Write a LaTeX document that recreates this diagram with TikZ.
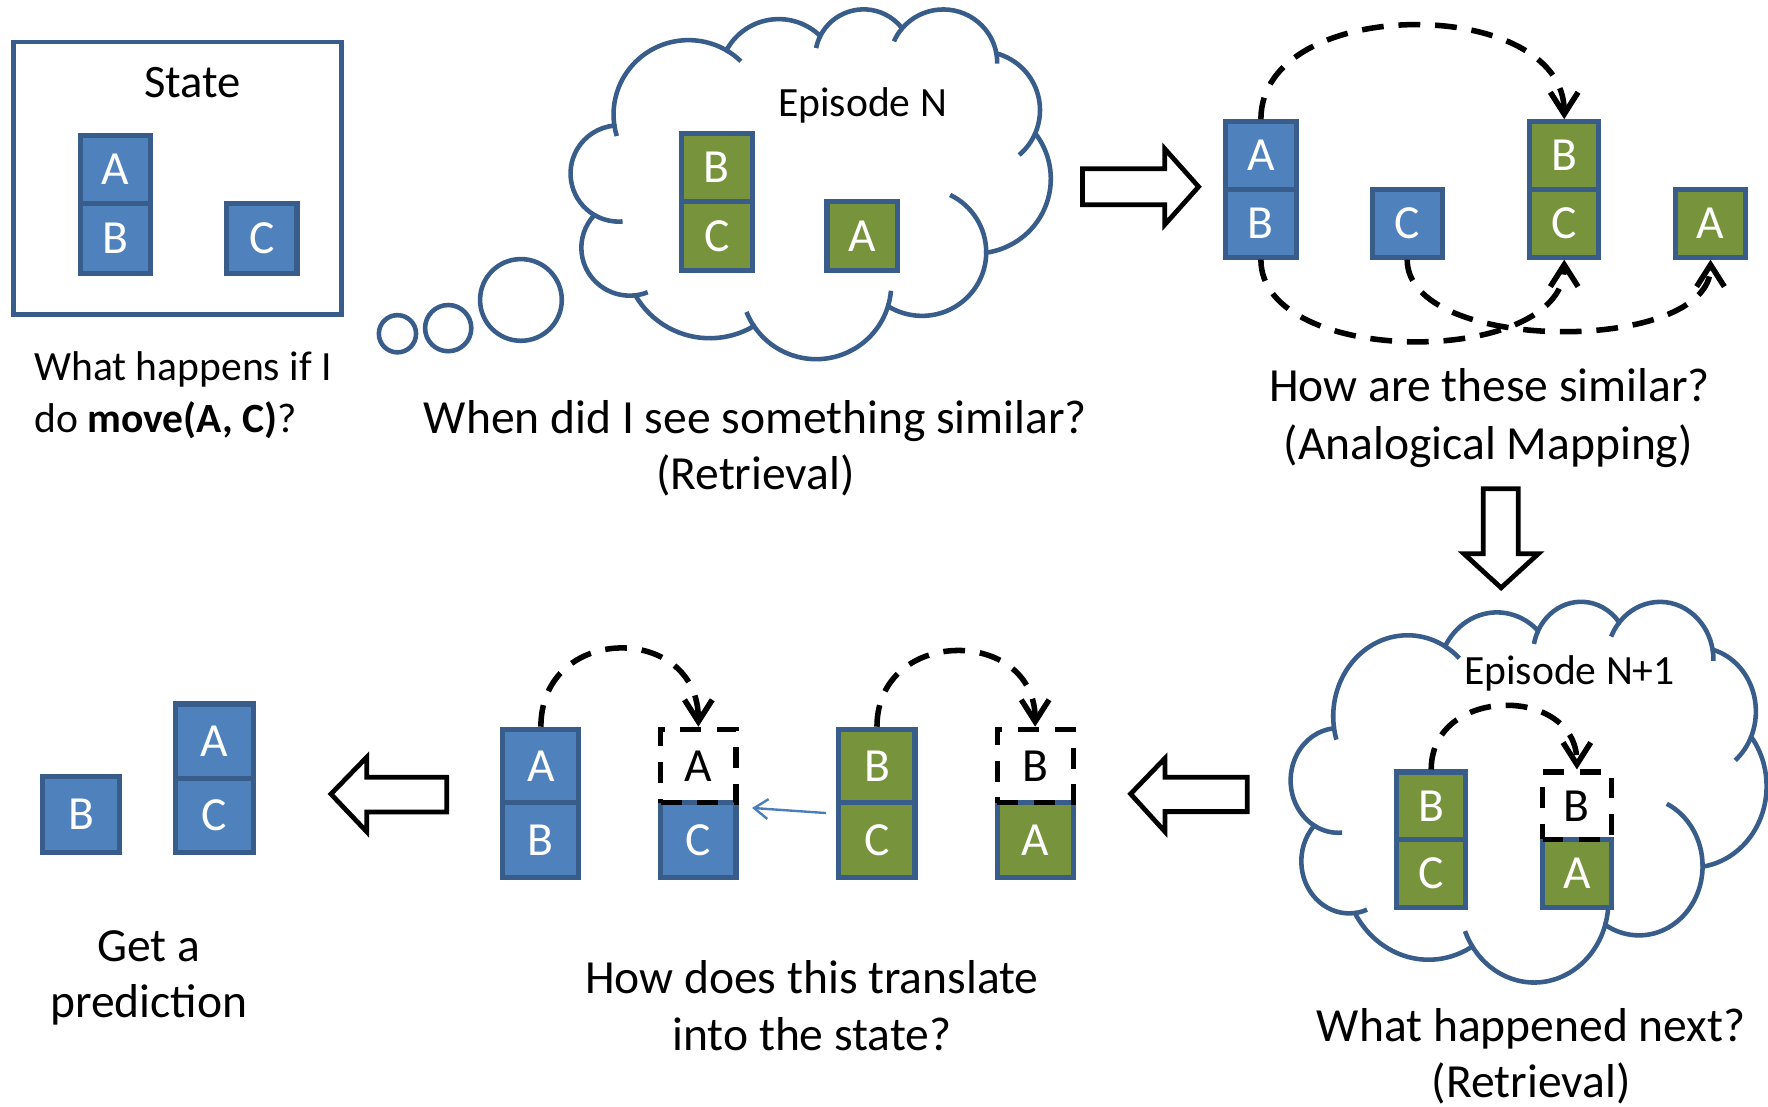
\documentclass[tikz,border=0pt]{standalone}
\usepackage{fontspec}
\setmainfont{Carlito}
\usetikzlibrary{arrows.meta,calc}
\definecolor{bfill}{HTML}{4F81BD}
\definecolor{bline}{HTML}{385D8A}
\definecolor{gfill}{HTML}{77933C}
\definecolor{tline}{HTML}{4A7EBB}
\newcommand\fbig{\fontsize{24}{29}\selectfont}
\newcommand\fmid{\fontsize{21}{25}\selectfont}
% arc in OOXML style: wR hR stAng swAng (visual angles, degrees)
\newcommand\ooarc[4]{%
  \pgfextra{%
    \pgfmathparse{atan2((#1)*sin(#3),(#2)*cos(#3))}\xdef\ooS{\pgfmathresult}%
    \pgfmathparse{atan2((#1)*sin((#3)+(#4)),(#2)*cos((#3)+(#4)))}\xdef\ooE{\pgfmathresult}%
    \pgfmathparse{mod(\ooE-(\ooS)+720,360)-360*((#4)<0)}\xdef\ooD{\pgfmathresult}%
  }%
  arc[start angle=\ooS, delta angle=\ooD, x radius=#1, y radius=#2]%
}
\newcommand\cloudshape[1]{%
  \draw[cloudln, fill=white] (3.900,14.370) coordinate (#1s)
    \ooarc{6.753}{9.190}{-190.48748}{123.78053} coordinate (#1k1)
    \ooarc{5.333}{7.267}{-144.10238}{89.94523} coordinate (#1k2)
    \ooarc{4.365}{5.945}{-145.80792}{99.72302} coordinate (#1k3)
    \ooarc{4.857}{6.595}{-130.98607}{117.24173} coordinate (#1k4)
    \ooarc{5.333}{7.273}{-78.70888}{109.02692} coordinate (#1k5)
    \ooarc{6.775}{9.220}{-46.26725}{130.26900} coordinate (#1k6)
    \ooarc{5.785}{7.867}{0.62502}{114.03333} coordinate (#1k7)
    \ooarc{6.752}{9.215}{22.4516}{115.17255} coordinate (#1k8)
    \ooarc{7.720}{10.543}{66.24263}{75.71102} coordinate (#1k9)
    \ooarc{4.360}{5.918}{-274.94208}{146.73557} coordinate (#1k10)
    \ooarc{4.345}{5.945}{-246.8285}{152.51885} -- cycle;
  \draw[cloudln] (#1k10) \ooarc{4.345}{5.945}{113.1715}{-26.43057};
  \draw[cloudln] (#1k9) \ooarc{4.360}{5.918}{85.05792}{-11.44747};
  \draw[cloudln] (#1k8) \ooarc{6.752}{9.215}{137.62415}{14.08110};
  \draw[cloudln] (#1k7) \ooarc{6.752}{9.215}{22.4516}{-15.99835};
  \draw[cloudln] (#1k6) \ooarc{5.785}{7.867}{0.62502}{-70.91737};
  \draw[cloudln] (#1k5) \ooarc{5.333}{7.273}{30.31804}{27.7515};
  \draw[cloudln] (#1k4) \ooarc{4.857}{6.595}{-13.74434}{14.85375};
  \draw[cloudln] (#1k3) \ooarc{4.857}{6.595}{-130.98607}{-18.19588};
  \draw[cloudln] (#1k2) \ooarc{4.365}{5.945}{-145.80792}{-19.00388};
  \draw[cloudln] (#1k1) \ooarc{6.753}{9.190}{-66.70695}{12.31935};
  \draw[cloudln] (#1s) \ooarc{6.753}{9.190}{-190.48748}{-11.85817};
}
% block: name x0 y0 x1 y1 letter style
\newcommand\blk[7]{%
  \pgfmathsetmacro\bw{(#4-#2)*0.02}%
  \pgfmathsetmacro\bh{(#5-#3)*0.02}%
  \node[#7, minimum width=\bw cm, minimum height=\bh cm] (#1) at ({(#2+#4)/2},{(#3+#5)/2}) {#6};%
}
\begin{document}
\begin{tikzpicture}[x=0.02cm, y=-0.02cm,
  cloudln/.style={draw=bline, line width=2.3pt},
  bblk/.style={draw=bline, fill=bfill, line width=2.6pt, text=white, font=\fbig, inner sep=0pt},
  gblk/.style={draw=bline, fill=gfill, line width=2.6pt, text=white, font=\fbig, inner sep=0pt},
  dblk/.style={draw=black, line width=2.6pt, dash pattern=on 10.5pt off 8pt, text=black, font=\fbig, inner sep=0pt},
  dasharr/.style={draw=black, line width=2.8pt, dash pattern=on 11pt off 7.5pt, -{Straight Barb[length=11pt,width=14pt]}},
  hollow/.style={draw=black, line width=2.4pt, fill=white, line join=miter},
  lbl/.style={font=\fbig, anchor=base, inner sep=0pt},
  lblm/.style={font=\fmid, anchor=base, inner sep=0pt},
  bub/.style={circle, draw=bline, line width=2.3pt, inner sep=0pt}]
\path[fill=white, use as bounding box] (0,0) rectangle (1568,981);

% ---------- State ----------
\node[draw=bline, line width=2.4pt, minimum width=5.82cm, minimum height=4.84cm, inner sep=0pt] (state) at (157.5,158.2) {};
\node[lbl, font=\fontsize{23.5}{28}\selectfont] (tState) at (171,86.4) {State};
\blk{sA}{71.3}{120.3}{133.4}{180.3}{A}{bblk}
\blk{sB}{71.3}{180.3}{133.4}{242.4}{B}{bblk}
\blk{sC}{201}{180.3}{263.4}{242.4}{C}{bblk}
\node[lblm, anchor=base west] (tQ1) at (30,337.7) {What happens if I};
\node[lblm, anchor=base west] (tQ2) at (30,383.7) {do \textbf{move(A, C)}?};

% ---------- thought bubbles ----------
\node[bub, minimum size=0.66cm] (bub1) at (352.5,296) {};
\node[bub, minimum size=0.82cm] (bub2) at (397.5,291) {};
\node[bub, minimum size=1.45cm] (bub3) at (462,266) {};

% ---------- Cloud 1 ----------
\begin{scope}[shift={(506.35,7.29)}, x=0.19698cm, y=-0.1436cm]
\cloudshape{ca}
\end{scope}
\node[lblm] (tEpN) at (765,103.7) {Episode N};
\blk{c1B}{604.3}{118.2}{667}{178.9}{B}{gblk}
\blk{c1C}{604.3}{178.9}{667}{240}{C}{gblk}
\blk{c1A}{733.4}{178.9}{796.3}{240}{A}{gblk}
\node[lbl] (tWhen) at (670,384.4) {When did I see something similar?};
\node[lbl] (tRet1) at (670,434.4) {(Retrieval)};

% ---------- arrow right ----------
\draw[hollow] (960,149.6) -- (1033,149.6) -- (1033,132) -- (1063,165.6) -- (1033,199.2) -- (1033,181.6) -- (960,181.6) -- cycle;

% ---------- Mapping ----------
\blk{mA}{1087}{108}{1149.5}{168}{A}{bblk}
\blk{mB}{1087}{168}{1149.5}{228}{B}{bblk}
\blk{mC}{1217}{168}{1279}{228}{C}{bblk}
\blk{mgB}{1356.5}{108}{1418}{168}{B}{gblk}
\blk{mgC}{1356.5}{168}{1418}{228}{C}{gblk}
\blk{mgA}{1486}{168}{1548}{228}{A}{gblk}
\draw[dasharr] (mA.north) .. controls ($(mA.north)+(0,-110.7)$) and ($(mgB.north)+(0,-110.7)$) .. (mgB.north);
\draw[dasharr] (mB.south) .. controls ($(mB.south)+(0,96)$) and ($(mgC.south)+(0,96)$) .. (mgC.south);
\draw[dasharr] (mC.south) .. controls ($(mC.south)+(0,84)$) and ($(mgA.south)+(0,84)$) .. (mgA.south);
\node[lbl] (tHow) at (1321,356.4) {How are these similar?};
\node[lbl] (tAna) at (1320,407.4) {(Analogical Mapping)};

% ---------- arrow down ----------
\draw[hollow] (1315.5,433.5) -- (1346.5,433.5) -- (1346.5,491.2) -- (1364.2,491.2) -- (1331.3,521.3) -- (1298.4,491.2) -- (1315.5,491.2) -- cycle;

% ---------- Cloud 2 ----------
\begin{scope}[shift={(1144.95,532.6)}, x=0.19522cm, y=-0.1563cm]
\cloudshape{cb}
\end{scope}
\node[lblm] (tEpN1) at (1392,606.7) {Episode N+1};
\blk{c2B}{1238.6}{684.7}{1300}{744.5}{B}{gblk}
\blk{c2C}{1238.6}{744.5}{1300}{805}{C}{gblk}
\blk{c2A}{1368}{744.5}{1429}{805}{A}{gblk}
\blk{c2d}{1368}{684.7}{1429}{744.5}{B}{dblk}
\draw[dasharr] (c2B.north) .. controls ($(c2B.north)+(0,-74.7)$) and ($(c2d.north)+(0,-74.7)$) .. (c2d.north);
\node[lbl] (tNext) at (1358,923.4) {What happened next?};
\node[lbl] (tRet2) at (1358,973.4) {(Retrieval)};

% ---------- arrow left (right one) ----------
\draw[hollow] (1106.2,689.4) -- (1033.2,689.4) -- (1033.2,672.5) -- (1002.7,704.1) -- (1033.2,737.6) -- (1033.2,719.8) -- (1106.2,719.8) -- cycle;

% ---------- Translation ----------
\blk{bA}{446}{646.8}{513.4}{711.8}{A}{bblk}
\blk{bB}{446}{711.8}{513.4}{778}{B}{bblk}
\blk{bC}{586}{711.8}{652.7}{778}{C}{bblk}
\blk{bdA}{586}{646.8}{652.7}{711.8}{A}{dblk}
\blk{bgB}{744}{646.8}{811.5}{711.8}{B}{gblk}
\blk{bgC}{744}{711.8}{811.5}{778}{C}{gblk}
\blk{bgA}{884.4}{711.8}{951.7}{778}{A}{gblk}
\blk{bdB}{884.4}{646.8}{951.7}{711.8}{B}{dblk}
\draw[dasharr] (bA.north) .. controls ($(bA.north)+(0,-92)$) and ($(bdA.north)+(0,-92)$) .. (bdA.north);
\draw[dasharr] (bgB.north) .. controls ($(bgB.north)+(0,-89)$) and ($(bdB.north)+(0,-89)$) .. (bdB.north);
\draw[draw=tline, line width=1.2pt, -{Straight Barb[length=7pt,width=10pt]}] ([shift={(-9,7)}]bgB.south west) -- ([shift={(12,7)}]bC.north east);
\node[lbl] (tTr1) at (720,881.4) {How does this translate};
\node[lbl] (tTr2) at (720,931.4) {into the state?};

% ---------- arrow left (left one) ----------
\draw[hollow] (396.1,689.4) -- (325.2,689.4) -- (325.2,671.6) -- (293.5,704.2) -- (325.2,737.6) -- (325.2,720.1) -- (396.1,720.1) -- cycle;

% ---------- Prediction ----------
\blk{pB}{37.8}{688.8}{105.8}{756.2}{B}{bblk}
\blk{pA}{156}{624.3}{224.7}{690.3}{A}{bblk}
\blk{pC}{156}{690.3}{224.7}{756.2}{C}{bblk}
\node[lbl] (tGet) at (132,852.4) {Get a};
\node[lbl] (tPred) at (132,902.4) {prediction};
\end{tikzpicture}
\end{document}
